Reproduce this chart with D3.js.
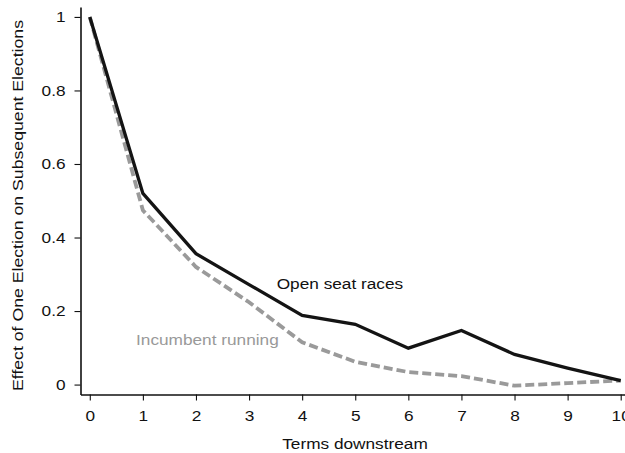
<!DOCTYPE html>
<html>
<head>
<meta charset="utf-8">
<script src="https://cdn.jsdelivr.net/npm/d3@7"></script>
<style>
  html, body { margin: 0; padding: 0; background: #fff; }
  svg { display: block; }
  text { font-family: "Liberation Sans", Arial, Helvetica, sans-serif; }
</style>
</head>
<body>
<svg id="chart" width="625" height="453"></svg>
<script>
const terms = [0, 1, 2, 3, 4, 5, 6, 7, 8, 9, 10];
const openSeat = [1, 0.52, 0.356, 0.272, 0.188, 0.164, 0.099, 0.147, 0.082, 0.045, 0.011];
const incumbent = [1, 0.474, 0.32, 0.224, 0.115, 0.062, 0.034, 0.023, -0.003, 0.004, 0.011];
const yTicks = [0, 0.2, 0.4, 0.6, 0.8, 1];
const xTicks = [0, 1, 2, 3, 4, 5, 6, 7, 8, 9, 10];

const FS = 14.5;
const S = 1.19; // horizontal glyph stretch
const svg = d3.select("#chart");

const x = d3.scaleLinear().domain([-0.175, 10.175]).range([80.5, 630]);
const y = d3.scaleLinear().domain([-0.027, 1.027]).range([394.5, 7]);

// X axis
const gx = svg.append("g").attr("transform", "translate(0,394.5)")
  .call(d3.axisBottom(x).tickValues(xTicks).tickSize(6).tickSizeOuter(0).tickFormat(d3.format("d")));
gx.select(".domain").attr("stroke", "#111").attr("stroke-width", 1.6);
gx.selectAll(".tick line").attr("stroke", "#111").attr("stroke-width", 1.1);
gx.selectAll(".tick text").attr("font-size", FS).attr("fill", "#111")
  .attr("y", 27).attr("dy", 0).attr("transform", `scale(${S},1)`)
  .style("font-family", '"Liberation Sans", Arial, sans-serif');

// Y axis
const gy = svg.append("g").attr("transform", "translate(80.5,0)")
  .call(d3.axisLeft(y).tickValues(yTicks).tickSize(6).tickSizeOuter(0).tickFormat(d3.format("~g")));
gy.select(".domain").attr("stroke", "#111").attr("stroke-width", 1.6);
gy.selectAll(".tick line").attr("stroke", "#111").attr("stroke-width", 1.1);
gy.selectAll(".tick text").attr("font-size", FS).attr("fill", "#111")
  .attr("x", -15 / S).attr("dy", "0.34em").attr("transform", `scale(${S},1)`)
  .style("font-family", '"Liberation Sans", Arial, sans-serif');

// Lines
const line = d3.line().x((d, i) => x(terms[i])).y(d => y(d));

svg.append("path").datum(incumbent)
  .attr("d", line).attr("fill", "none")
  .attr("stroke", "#9a9a9a").attr("stroke-width", 3.8)
  .attr("stroke-dasharray", "9,4");

svg.append("path").datum(openSeat)
  .attr("d", line).attr("fill", "none")
  .attr("stroke", "#141414").attr("stroke-width", 3.3)
  .attr("stroke-linejoin", "miter");

// Labels
svg.append("text")
  .attr("transform", `translate(276.7,288.5) scale(${S},1)`)
  .attr("font-size", FS).attr("fill", "#111")
  .text("Open seat races");

svg.append("text")
  .attr("transform", `translate(136,344.5) scale(${S},1)`)
  .attr("font-size", FS).attr("fill", "#999")
  .text("Incumbent running");

svg.append("text")
  .attr("transform", `translate(355,449) scale(${S},1)`)
  .attr("font-size", FS).attr("fill", "#111").attr("text-anchor", "middle")
  .text("Terms downstream");

svg.append("text")
  .attr("transform", `translate(22.5,205.5) rotate(-90) scale(1.22,1)`)
  .attr("font-size", FS).attr("fill", "#111").attr("text-anchor", "middle")
  .text("Effect of One Election on Subsequent Elections");
</script>
</body>
</html>
